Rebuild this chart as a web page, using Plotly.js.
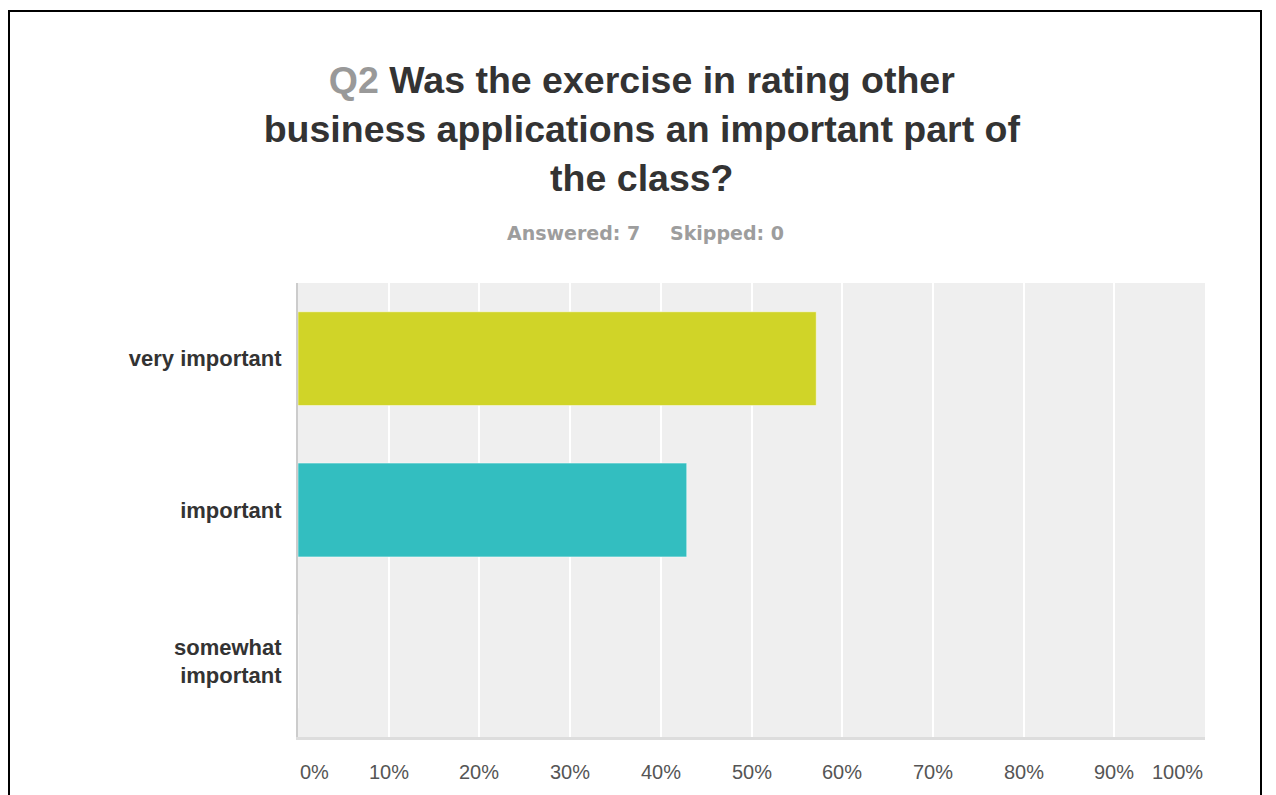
<!DOCTYPE html>
<html>
<head>
<meta charset="utf-8">
<script src="https://cdn.plot.ly/plotly-3.0.1.min.js"></script>
<style>
  html, body { margin: 0; padding: 0; background: #fff; overflow: hidden; }
  #frame { position: absolute; left: 8px; top: 10px; width: 1254px; height: 820px; border: 2px solid #000; box-sizing: border-box; }
  #chart { position: absolute; left: 0; top: 0; width: 1276px; height: 795px; }
</style>
</head>
<body>
<div id="frame"></div>
<div id="chart"></div>
<script>
// ---- data ----
const categories = ['very important', 'important', 'somewhat important'];
const categoryLabels = ['very important', 'important', 'somewhat<br>important'];
const responses = [0.5714, 0.4286, 0.0];
const barColors = ['#d0d428', '#33bec0', '#f08a3b'];
const tickValues = [0, 0.1, 0.2, 0.3, 0.4, 0.5, 0.6, 0.7, 0.8, 0.9, 1.0];
const tickLabels = ['0%', '10%', '20%', '30%', '40%', '50%', '60%', '70%', '80%', '90%', '100%'];
const answered = 7;
const skipped = 0;

const FONT = 'Liberation Sans, Arial, sans-serif';

const trace = {
  type: 'bar',
  orientation: 'h',
  y: categories,
  x: responses,
  marker: { color: barColors, line: { color: 'rgba(255,255,255,0.5)', width: 1 } },
  hoverinfo: 'none'
};

const plotTop = 283, plotBottom = 737;
const subY = (plotBottom - 233) / (plotBottom - plotTop);

const annotations = tickValues.map((v, i) => ({
  x: v, xref: 'x', y: 0, yref: 'paper', yshift: -35,
  text: tickLabels[i], showarrow: false,
  xanchor: i === 0 ? 'left' : (i === tickValues.length - 1 ? 'right' : 'center'),
  yanchor: 'middle',
  font: { family: FONT, size: 20, color: '#555555' }
}));

annotations.push({
  x: 0.3793, xref: 'x', y: subY, yref: 'paper',
  text: 'Answered: ' + answered, showarrow: false, xanchor: 'right', yanchor: 'middle',
  font: { family: 'DejaVu Sans, sans-serif', size: 19, color: '#9d9d9d', weight: 'bold' }
});
annotations.push({
  x: 0.408, xref: 'x', y: subY, yref: 'paper',
  text: 'Skipped: ' + skipped, showarrow: false, xanchor: 'left', yanchor: 'middle',
  font: { family: 'DejaVu Sans, sans-serif', size: 19, color: '#9d9d9d', weight: 'bold' }
});

const layout = {
  width: 1276, height: 795,
  margin: { l: 298, r: 71, t: 283, b: 58, pad: 0 },
  paper_bgcolor: 'rgba(0,0,0,0)',
  plot_bgcolor: '#efefef',
  showlegend: false,
  bargap: 0.38,
  title: {
    text: '<span style="color:#999999">Q2</span> Was the exercise in rating other<br>business applications an important part of<br>the class?',
    font: { family: FONT, size: 37.5, color: '#333333', weight: 'bold' },
    x: 0.503, xanchor: 'center', xref: 'container',
    y: 1 - 93 / 795, yanchor: 'middle', yref: 'container'
  },
  xaxis: {
    range: [0, 1], tickvals: tickValues, showticklabels: false,
    showgrid: true, gridcolor: '#ffffff', gridwidth: 2,
    zeroline: false, showline: true, linecolor: '#dddddd', linewidth: 3,
    ticks: '', fixedrange: true
  },
  yaxis: {
    type: 'category', categoryarray: categories, autorange: 'reversed',
    tickvals: categories, ticktext: categoryLabels,
    tickfont: { family: FONT, size: 22, color: '#333333', weight: 'bold' },
    showgrid: false, zeroline: false, showline: true, linecolor: '#cccccc', linewidth: 2,
    ticks: '', ticklabelstandoff: 10, fixedrange: true
  },
  annotations: annotations
};

Plotly.newPlot('chart', [trace], layout, { displayModeBar: false, staticPlot: true });
</script>
</body>
</html>
